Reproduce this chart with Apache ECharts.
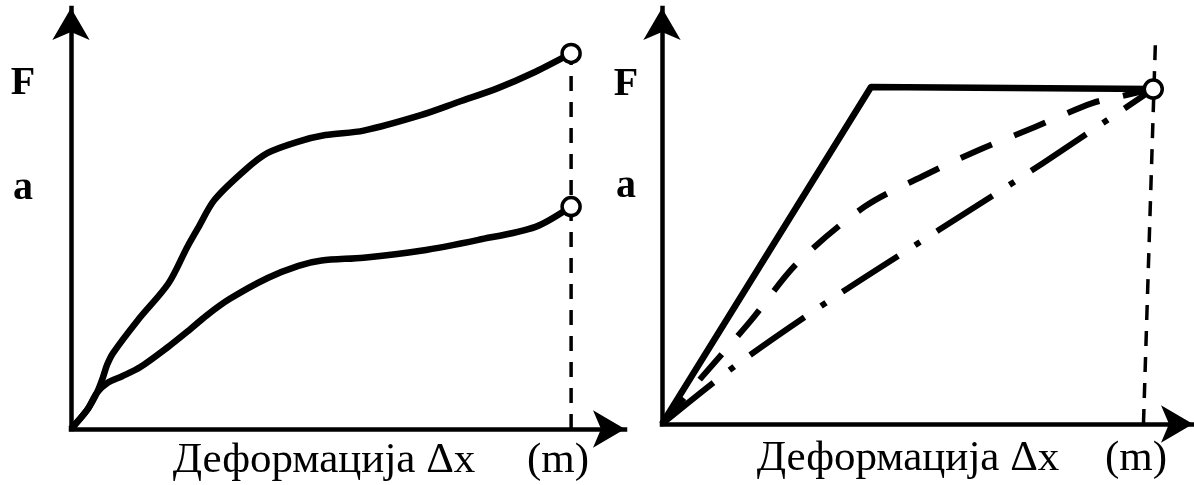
<!DOCTYPE html>
<html>
<head>
<meta charset="utf-8">
<title>Деформација Δx</title>
<script src="https://cdn.jsdelivr.net/npm/echarts@6/dist/echarts.min.js"></script>
<style>
  html, body { margin: 0; padding: 0; background: #fff; }
  #chart { width: 1194px; height: 485px; }
</style>
</head>
<body>
<div id="chart"></div>
<script>
// Both panels use a relative scale in which 100 is a little short of the arrow tips.
const axisLabelX = 'Деформација Δx';
const axisUnitX = '(m)';
const axisLabelF = 'F';
const axisLabelA = 'a';

// Left panel: two force–deformation curves ending in open circles.
const leftUpper = [
  [0, 0], [3.0, 4.7], [4.8, 8.9], [5.9, 12.6], [6.7, 15.8], [7.8, 18.7],
  [12.4, 26.8], [18.1, 35.9], [21.6, 44.9], [23.7, 49.8], [26.6, 56.4],
  [32.3, 63.8], [36.5, 68.0], [42.2, 70.8], [47.2, 72.4], [54.3, 73.5],
  [64.9, 77.3], [72.0, 80.6], [79.1, 83.9], [86.2, 88.0], [92.8, 92.5]
];
const leftLower = [
  [0, 0], [3.0, 4.7], [4.8, 8.9], [6.8, 11.4], [9.5, 13.0], [12.8, 15.2],
  [18.1, 20.3], [21.6, 24.0], [25.2, 28.0], [29.4, 32.0], [36.5, 37.2],
  [42.2, 40.2], [46.5, 41.5], [54.3, 42.2], [64.9, 43.9], [75.6, 46.6],
  [86.2, 49.8], [92.8, 54.8]
];
const leftEndX = 92.8;

// Right panel: linear-then-flat (solid), curved (dashed), near-linear (dash-dot).
const rightSolid = [[0, 0], [40.5, 84.0], [95.2, 83.5]];
const rightDashed = [
  [0, 0], [7.8, 11.8], [17.3, 25.9], [26.2, 40.1], [39.3, 54.2], [50.4, 61.7],
  [61.4, 68.3], [72.4, 74.1], [83.4, 80.0], [90.0, 82.0], [95.2, 83.5]
];
const rightDashDot = [
  [0, 0], [14.4, 14.7], [33.5, 31.7], [53.7, 48.4], [73.8, 65.0], [95.2, 83.5]
];
const rightEnd = [95.2, 83.5];
const rightGuide = [[93.3, 0], [95.6, 94.5]];

const INK = '#000';
const chart = echarts.init(document.getElementById('chart'), null, { renderer: 'canvas' });

function valueAxis(gridIndex, max) {
  return {
    type: 'value', gridIndex: gridIndex, min: 0, max: max,
    axisLine: {
      show: true, onZero: false,
      symbol: ['none', 'arrow'], symbolSize: [28, 32],
      lineStyle: { color: INK, width: 4.5, cap: 'square' }
    },
    axisTick: { show: false }, axisLabel: { show: false }, splitLine: { show: false }
  };
}

function curve(name, data, xi, lineType, width, smooth) {
  return {
    name: name, type: 'line', xAxisIndex: xi, yAxisIndex: xi, data: data,
    smooth: smooth, showSymbol: false, silent: true, z: 3,
    lineStyle: { color: INK, width: width, type: lineType, cap: 'butt', join: 'round' }
  };
}

function guide(name, data, xi) {
  return {
    name: name, type: 'line', xAxisIndex: xi, yAxisIndex: xi, data: data,
    showSymbol: false, silent: true, z: 2,
    lineStyle: { color: INK, width: 3.5, type: [15, 11] }
  };
}

function endPoints(name, data, xi) {
  return {
    name: name, type: 'scatter', xAxisIndex: xi, yAxisIndex: xi, data: data,
    symbol: 'circle', symbolSize: 18, silent: true, z: 5,
    itemStyle: { color: '#fff', borderColor: INK, borderWidth: 3.5, opacity: 1 }
  };
}

const serif = '"Liberation Serif", "DejaVu Serif", serif';
function label(text, x, y, size, weight, align) {
  return {
    type: 'text', x: x, y: y, silent: true, z: 10,
    style: {
      text: text, fill: INK, font: weight + ' ' + size + 'px ' + serif,
      align: align, verticalAlign: 'middle'
    }
  };
}

const option = {
  backgroundColor: '#fff',
  animation: false,
  grid: [
    { left: 71, top: 8, width: 554, height: 421 },
    { left: 662, top: 8, width: 531, height: 416 }
  ],
  xAxis: [valueAxis(0, 102.8), valueAxis(1, 102.9)],
  yAxis: [valueAxis(0, 103.7), valueAxis(1, 103.7)],
  series: [
    guide('leftGuide', [[leftEndX, 0], leftUpper[leftUpper.length - 1]], 0),
    curve('leftUpper', leftUpper, 0, 'solid', 6.5, 0.3),
    curve('leftLower', leftLower, 0, 'solid', 6.5, 0.3),
    endPoints('leftEnds', [leftUpper[leftUpper.length - 1], leftLower[leftLower.length - 1]], 0),

    guide('rightGuide', rightGuide, 1),
    curve('rightSolid', rightSolid, 1, 'solid', 6.5, false),
    curve('rightDashed', rightDashed, 1, [34, 24], 6, 0.3),
    curve('rightDashDot', rightDashDot, 1, [66, 20, 6, 20], 6, 0.3),
    endPoints('rightEnd', [rightEnd], 1)
  ],
  graphic: [
    label(axisLabelF, 23, 84, 40, 'bold', 'center'),
    label(axisLabelA, 23, 189, 40, 'bold', 'center'),
    label(axisLabelX, 324, 461, 43, 'normal', 'center'),
    label(axisUnitX, 558, 461, 43, 'normal', 'center'),
    label(axisLabelF, 626, 85, 40, 'bold', 'center'),
    label(axisLabelA, 626, 187, 40, 'bold', 'center'),
    label(axisLabelX, 908, 459, 43, 'normal', 'center'),
    label(axisUnitX, 1136, 459, 43, 'normal', 'center')
  ]
};

chart.setOption(option);
</script>
</body>
</html>
